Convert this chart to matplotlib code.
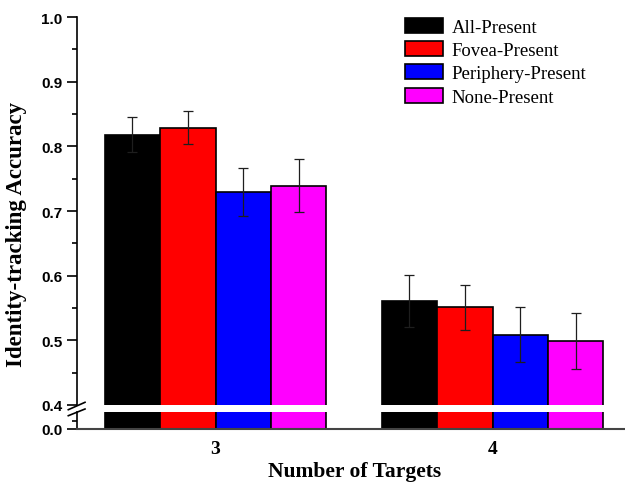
import matplotlib
matplotlib.use("Agg")
import matplotlib.pyplot as plt
import numpy as np
from matplotlib.lines import Line2D
from matplotlib.ticker import MultipleLocator, FixedLocator

# ---- data ----
groups = ["3", "4"]
conditions = ["All-Present", "Fovea-Present", "Periphery-Present", "None-Present"]
colors = ["#000000", "#FF0000", "#0000FF", "#FF00FF"]
all_present = [0.818, 0.561]
fovea_present = [0.829, 0.551]
periphery_present = [0.730, 0.509]
none_present = [0.739, 0.499]
all_err = [0.027, 0.040]
fovea_err = [0.026, 0.035]
periphery_err = [0.037, 0.043]
none_err = [0.041, 0.044]

values = [all_present, fovea_present, periphery_present, none_present]
errors = [all_err, fovea_err, periphery_err, none_err]

W, H = 625, 485
fig = plt.figure(figsize=(W / 100, H / 100), dpi=100)

left_px, right_px = 77, 631
ax_top = fig.add_axes([left_px / W, 1 - 406 / H, (right_px - left_px) / W, (406 - 18) / H])
ax_bot = fig.add_axes([left_px / W, 1 - 430 / H, (right_px - left_px) / W, 17 / H])

x = np.arange(len(groups))
bw = 0.2
offsets = [-1.5 * bw, -0.5 * bw, 0.5 * bw, 1.5 * bw]

for ax in (ax_top, ax_bot):
    for vals, errs, col, off, lab in zip(values, errors, colors, offsets, conditions):
        ax.bar(x + off, vals, width=bw, color=col, edgecolor="black", linewidth=1.2,
               label=lab, zorder=2)
        if ax is ax_top:
            ax.errorbar(x + off, vals, yerr=errs, fmt="none", ecolor="#1e1e1e",
                        elinewidth=0.9, capsize=3.5, capthick=0.9, zorder=3)
    ax.set_xlim(-0.5, 1.5)
    ax.spines["top"].set_visible(False)
    ax.spines["right"].set_visible(False)
    ax.spines["left"].set_linewidth(1.2)
    ax.tick_params(axis="y", which="major", direction="out", length=7, width=1.2)
    ax.tick_params(axis="y", which="minor", direction="out", length=3.5, width=1.2)

tick_font = dict(fontfamily="Liberation Sans", fontweight="bold", fontsize=11)

ax_top.set_ylim(0.4, 1.0)
ax_top.yaxis.set_minor_locator(MultipleLocator(0.05))
ax_top.spines["bottom"].set_visible(False)
ax_top.tick_params(axis="x", bottom=False, labelbottom=False)
ytv = np.round(np.arange(0.4, 1.01, 0.1), 1)
ax_top.set_yticks(ytv)
ax_top.set_yticklabels([f"{v:.1f}" for v in ytv], **tick_font)

ax_bot.set_ylim(0.0, 0.1)
ax_bot.set_yticks([0.0])
ax_bot.yaxis.set_minor_locator(FixedLocator([0.05]))
ax_bot.set_yticklabels(["0.0"], **tick_font)
ax_bot.spines["bottom"].set_color("#444444")
ax_bot.spines["bottom"].set_linewidth(1.5)
ax_bot.set_xticks(x)
ax_bot.set_xticklabels(groups, fontfamily="Liberation Serif", fontweight="bold", fontsize=14)
ax_bot.tick_params(axis="x", length=0, pad=8)

# break marks on the y axis
for (x0, y0, x1, y1) in [(68.3, 410.7, 85, 403.3), (68.3, 416.7, 85, 410.0)]:
    fig.add_artist(Line2D([x0 / W, x1 / W], [1 - y0 / H, 1 - y1 / H],
                          transform=fig.transFigure, color="black", lw=1.2))

# axis labels
fig.text(355 / W, 1 - 472 / H, "Number of Targets", ha="center", va="center",
         fontfamily="Liberation Serif", fontweight="bold", fontsize=15.5)
fig.text(17 / W, 1 - 234 / H, "Identity-tracking Accuracy", ha="center", va="center",
         rotation=90, fontfamily="Liberation Serif", fontweight="bold", fontsize=16.5)

# legend
handles, labels = ax_top.get_legend_handles_labels()
leg = ax_top.legend(handles[:4], labels[:4], loc="upper left",
                    bbox_to_anchor=(405 / W, 1 - 19 / H), bbox_transform=fig.transFigure,
                    frameon=False, borderpad=0, borderaxespad=0,
                    handlelength=2.05, handleheight=0.85, handletextpad=0.45,
                    labelspacing=0.28, prop={"family": "Liberation Serif", "size": 13.5})

fig.savefig("out.png", dpi=100)
